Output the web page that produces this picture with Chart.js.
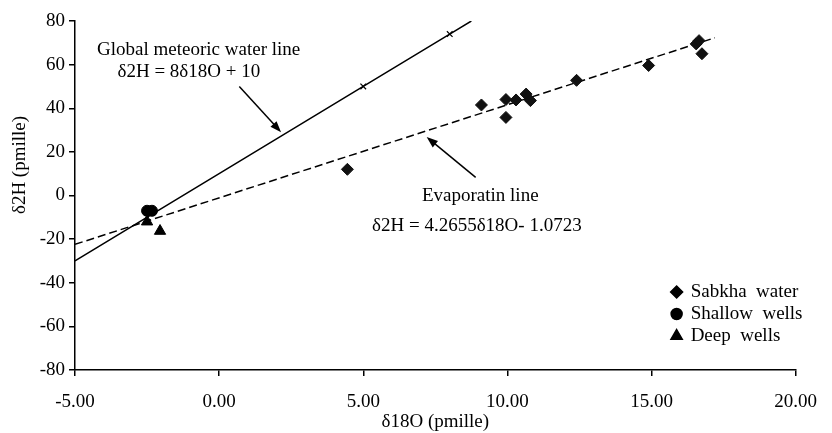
<!DOCTYPE html>
<html>
<head>
<meta charset="utf-8">
<script src="https://cdn.jsdelivr.net/npm/chart.js@4.4.1/dist/chart.umd.min.js"></script>
<style>
html, body { margin: 0; padding: 0; background: #fff; }
#wrap { width: 832px; height: 433px; }
</style>
</head>
<body>
<div id="wrap"><canvas id="chart"></canvas></div>
<script>
// values
const sabkhaX = [4.45, 9.1, 9.95, 9.95, 10.3, 10.65, 10.8, 12.4, 14.9, 16.55, 16.65, 16.75];
const sabkhaY = [12.0, 41.5, 44.0, 35.8, 43.8, 46.5, 43.5, 52.8, 59.6, 69.5, 71.0, 65.0];
const shallowX = [-2.5, -2.33];
const shallowY = [-7.0, -7.0];
const deepX = [-2.5, -2.05];
const deepY = [-12.0, -16.3];
// global meteoric water line (with the two x-marks)
const gmwlX = [-5, 5, 8, 8.75];
const gmwlY = [-30, 50, 74, 80];
const gmwlMarks = [0, 4, 4, 0];
// evaporation line ends
const evapX = [-5, 17.2];
const evapY = [-22.4, 72.3];
const xTicks = [-5, 0, 5, 10, 15, 20];

const font = "'Liberation Serif', 'Times New Roman', serif";
const pts = (xs, ys) => xs.map((x, i) => ({x: x, y: ys[i]}));

const notes = {
    id: 'notes',
    afterDatasetsDraw(chart) {
        const ctx = chart.ctx, xs = chart.scales.x, ys = chart.scales.y, a = chart.chartArea;
        const px = v => xs.getPixelForValue(v), py = v => ys.getPixelForValue(v);
        ctx.save();
        ctx.fillStyle = '#000';
        ctx.strokeStyle = '#000';
        ctx.font = '19px ' + font;
        ctx.textAlign = 'center';
        ctx.textBaseline = 'middle';
        ctx.fillText('Global meteoric water line', px(-0.71), py(66.6));
        ctx.fillText('\u03b42H = 8\u03b418O + 10', px(-1.05), py(56.5));
        ctx.fillText('Evaporatin line', px(9.06), py(-0.3));
        ctx.fillText('\u03b42H = 4.2655\u03b418O- 1.0723', px(8.94), py(-14.1));

        const arrow = (x1, y1, x2, y2) => {
            const X1 = px(x1), Y1 = py(y1), X2 = px(x2), Y2 = py(y2);
            const ang = Math.atan2(Y2 - Y1, X2 - X1);
            ctx.lineWidth = 1.5;
            ctx.beginPath();
            ctx.moveTo(X1, Y1);
            ctx.lineTo(X2 - 8 * Math.cos(ang), Y2 - 8 * Math.sin(ang));
            ctx.stroke();
            ctx.beginPath();
            ctx.moveTo(X2, Y2);
            ctx.lineTo(X2 - 12 * Math.cos(ang - 0.35), Y2 - 12 * Math.sin(ang - 0.35));
            ctx.lineTo(X2 - 12 * Math.cos(ang + 0.35), Y2 - 12 * Math.sin(ang + 0.35));
            ctx.closePath();
            ctx.fill();
        };
        arrow(0.7, 50.0, 2.15, 29.0);
        arrow(8.9, 8.3, 7.2, 26.8);

        // y axis title
        ctx.save();
        ctx.translate(20, 165);
        ctx.rotate(-Math.PI / 2);
        ctx.fillText('\u03b42H (pmille)', 0, 0);
        ctx.restore();

        // legend
        const lx = a.right - 119, tx = a.right - 105;
        const rows = [
            ['Sabkha  water', 'rectRot', 6],
            ['Shallow  wells', 'circle', 5.5],
            ['Deep  wells', 'triangle', 6.5]
        ];
        ctx.textAlign = 'left';
        rows.forEach((r, i) => {
            const y = a.bottom - 78 + i * 22;
            Chart.helpers.drawPoint(ctx, {pointStyle: r[1], radius: r[2], borderWidth: 1}, lx, y);
            ctx.fill();
            ctx.fillText(r[0], tx, y);
        });
        ctx.restore();
    }
};

new Chart(document.getElementById('chart'), {
    type: 'scatter',
    data: {
        datasets: [
            {
                label: 'Global meteoric water line',
                data: pts(gmwlX, gmwlY),
                showLine: true,
                borderColor: '#000',
                borderWidth: 1.5,
                pointStyle: 'crossRot',
                pointRadius: gmwlMarks,
                pointBorderWidth: 1.2,
                pointBackgroundColor: '#000',
                order: 3
            },
            {
                label: 'Evaporation line',
                data: pts(evapX, evapY),
                showLine: true,
                borderColor: '#000',
                borderWidth: 1.5,
                borderDash: [8, 4],
                pointRadius: 0,
                order: 4
            },
            {
                label: 'Sabkha water',
                data: pts(sabkhaX, sabkhaY),
                pointStyle: 'rectRot',
                pointRadius: 6,
                backgroundColor: '#111',
                borderColor: '#111',
                order: 1
            },
            {
                label: 'Shallow wells',
                data: pts(shallowX, shallowY),
                pointStyle: 'circle',
                pointRadius: 5.5,
                backgroundColor: '#000',
                borderColor: '#000',
                order: 2
            },
            {
                label: 'Deep wells',
                data: pts(deepX, deepY),
                pointStyle: 'triangle',
                pointRadius: 6.5,
                backgroundColor: '#000',
                borderColor: '#000',
                order: 0
            }
        ]
    },
    options: {
        responsive: true,
        maintainAspectRatio: false,
        animation: false,
        layout: { padding: { top: 21, right: 35, left: 0, bottom: 0 } },
        plugins: {
            legend: { display: false },
            tooltip: { enabled: false }
        },
        scales: {
            x: {
                type: 'linear',
                min: -5,
                max: 20,
                afterBuildTicks: s => { s.ticks = xTicks.map(v => ({value: v})); },
                afterFit: s => { s.height = 63; },
                ticks: {
                    color: '#000',
                    font: { family: font, size: 19 },
                    padding: 15,
                    callback: v => v.toFixed(2)
                },
                grid: { drawOnChartArea: false, color: '#000', tickLength: 6, lineWidth: 1.5 },
                border: { color: '#000', width: 1.5 },
                title: {
                    display: true,
                    text: '\u03b418O (pmille)',
                    color: '#000',
                    font: { family: font, size: 19 },
                    padding: { top: 0, bottom: 0 }
                }
            },
            y: {
                min: -80,
                max: 80,
                afterFit: s => { s.width = 75; },
                ticks: {
                    stepSize: 20,
                    color: '#000',
                    font: { family: font, size: 19 },
                    padding: 4
                },
                grid: { drawOnChartArea: false, color: '#000', tickLength: 6, lineWidth: 1.5 },
                border: { color: '#000', width: 1.5 }
            }
        }
    },
    plugins: [notes]
});
</script>
</body>
</html>
